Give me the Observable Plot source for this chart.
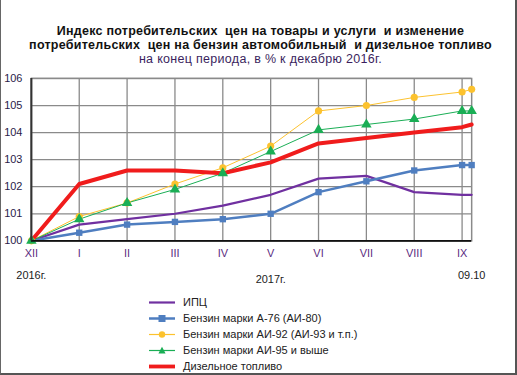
<!DOCTYPE html>
<html><head><meta charset="utf-8">
<script src="https://cdn.jsdelivr.net/npm/d3@7"></script>
<script src="https://cdn.jsdelivr.net/npm/@observablehq/plot@0.6"></script>
<style>
html,body{margin:0;padding:0;background:#fff;}
#wrap{position:relative;width:517px;height:375px;box-sizing:border-box;border-left:1px solid #666;border-right:2px solid #555;border-bottom:2px solid #555;font-family:"Liberation Sans",Arial,sans-serif;overflow:hidden;}
#title{position:absolute;left:1px;top:24px;width:517px;text-align:center;font-size:12.5px;line-height:14px;color:#111;letter-spacing:0.25px;}
#title b{font-weight:bold;}
#title .sub{color:#3b1f5e;font-size:12.5px;letter-spacing:0.3px;}
#chart{position:absolute;left:-1px;top:70px;}
#legend{position:absolute;left:147px;top:294px;font-size:11px;color:#222;}
#legend .row{height:16px;display:flex;align-items:center;}
#legend svg{margin-right:7px;}
</style></head>
<body>
<div id="wrap">
  <div id="title"><b>Индекс потребительских&nbsp; цен на товары и услуги&nbsp; и изменение<br>потребительских&nbsp; цен на бензин автомобильный&nbsp; и дизельное топливо</b><br><span class="sub">на конец периода, в % к декабрю 2016г.</span></div>
  <div id="chart"></div>
  <div id="legend"></div>
</div>
<script>
const periods = ["XII","I","II","III","IV","V","VI","VII","VIII","IX","09.10"];
const periodIndex = [0,1,2,3,4,5,6,7,8,9,9.2];
const tickLabels = ["XII","I","II","III","IV","V","VI","VII","VIII","IX"];
const yTicks = [100,101,102,103,104,105,106];
const seriesNames = ["ИПЦ","Бензин марки А-76 (АИ-80)","Бензин марки АИ-92 (АИ-93 и т.п.)","Бензин марки АИ-95 и выше","Дизельное топливо"];
const cpi    = [100,100.6,100.8,101.0,101.3,101.7,102.3,102.4,101.8,101.7,101.7];
const a76    = [100,100.3,100.6,100.7,100.8,101.0,101.8,102.2,102.6,102.8,102.8];
const ai92   = [100,100.9,101.4,102.1,102.7,103.5,104.8,105.0,105.3,105.5,105.6];
const ai95   = [100,100.8,101.4,101.9,102.5,103.3,104.1,104.3,104.5,104.8,104.8];
const diesel = [100,102.1,102.6,102.6,102.5,102.9,103.6,103.8,104.0,104.2,104.3];
const extraLabels = [{x:0,t:"2016г.",dy:37},{x:5,t:"2017г.",dy:41},{x:9.2,t:"09.10",dy:37}];

const styles = [
  {color:"#7030a0", width:2.2, symbol:null},
  {color:"#4f7ec0", width:2.5, symbol:"square", r:3.6},
  {color:"#fcc22e", width:1, symbol:"circle", r:3.6},
  {color:"#1aae55", width:1, symbol:"triangle", r:3.9},
  {color:"#f01c1c", width:4, symbol:null}
];
const allValues = [cpi,a76,ai92,ai95,diesel];
const rows = [];
allValues.forEach((vals,s)=>vals.forEach((v,i)=>rows.push({s, name:seriesNames[s], x:periodIndex[i], p:periods[i], y:v})));

const marks = [
  Plot.gridX(tickLabels.map((_,i)=>i), {stroke:"#8a8a8a", strokeOpacity:1, strokeWidth:1.3}),
  Plot.gridY(yTicks, {stroke:"#8a8a8a", strokeOpacity:1, strokeWidth:1.3}),
  Plot.frame({stroke:"#8a8a8a", strokeWidth:1.5}),
];
styles.forEach((st,s)=>{
  marks.push(Plot.line(rows.filter(d=>d.s===s), {x:"x", y:"y", stroke:st.color, strokeWidth:st.width, strokeLinejoin:"round", strokeLinecap:"round"}));
});
styles.forEach((st,s)=>{
  if (st.symbol) marks.push(Plot.dot(rows.filter(d=>d.s===s && (d.x>0 || s>=2)), {x:"x", y:"y", symbol:()=>st.symbol, r:st.r, fill:st.color, stroke:"none"}));
});
marks.push(
  Plot.ruleY([100], {stroke:"#111", strokeWidth:1.6}),
  Plot.ruleX([0], {stroke:"#333", strokeWidth:2}),
  Plot.axisY(yTicks, {tickSize:0, tickPadding:9, tickFormat:d=>String(d), fontSize:11, color:"#2a1c48", label:null}),
  Plot.axisX(tickLabels.map((_,i)=>i), {tickSize:0, tickPadding:8, tickFormat:i=>tickLabels[i], fontSize:11, color:"#5a2a80", label:null}),
  Plot.text(extraLabels, {x:"x", text:"t", frameAnchor:"bottom", fill:"#222", fontSize:11, lineAnchor:"top"})
);

const chart = Plot.plot({
  width:517, height:222,
  marginLeft:31, marginRight:44, marginTop:8, marginBottom:51,
  x:{domain:[0,9.2]},
  y:{domain:[100,106]},
  style:{fontFamily:"'Liberation Sans', Arial, sans-serif", background:"transparent", overflow:"visible"},
  marks
});
document.getElementById("chart").appendChild(chart);

// offset the period-year labels below the month row
(function(){
  const g = [...chart.querySelectorAll("g[aria-label='text']")].pop();
  if (g) [...g.querySelectorAll("text")].forEach((t,i)=>{
    t.setAttribute("dy", (extraLabels[i].dy - 6) + "px");
  });
})();

// legend
const leg = document.getElementById("legend");
styles.forEach((st,s)=>{
  const row = document.createElement("div"); row.className="row";
  let sym = "";
  if (st.symbol==="square") sym = `<rect x="10.5" y="4" width="7" height="7" fill="${st.color}"/>`;
  if (st.symbol==="circle") sym = `<circle cx="14" cy="7.5" r="3.2" fill="${st.color}"/>`;
  if (st.symbol==="triangle") sym = `<path d="M14,3.8 L17.6,10.5 L10.4,10.5 Z" fill="${st.color}"/>`;
  row.innerHTML = `<svg width="28" height="15"><line x1="1" y1="7.5" x2="27" y2="7.5" stroke="${st.color}" stroke-width="${s===4?3.8:(s===0?2.2:(s===1?2.5:1.2))}"/>${sym}</svg><span>${seriesNames[s]}</span>`;
  leg.appendChild(row);
});
</script>
</body></html>
